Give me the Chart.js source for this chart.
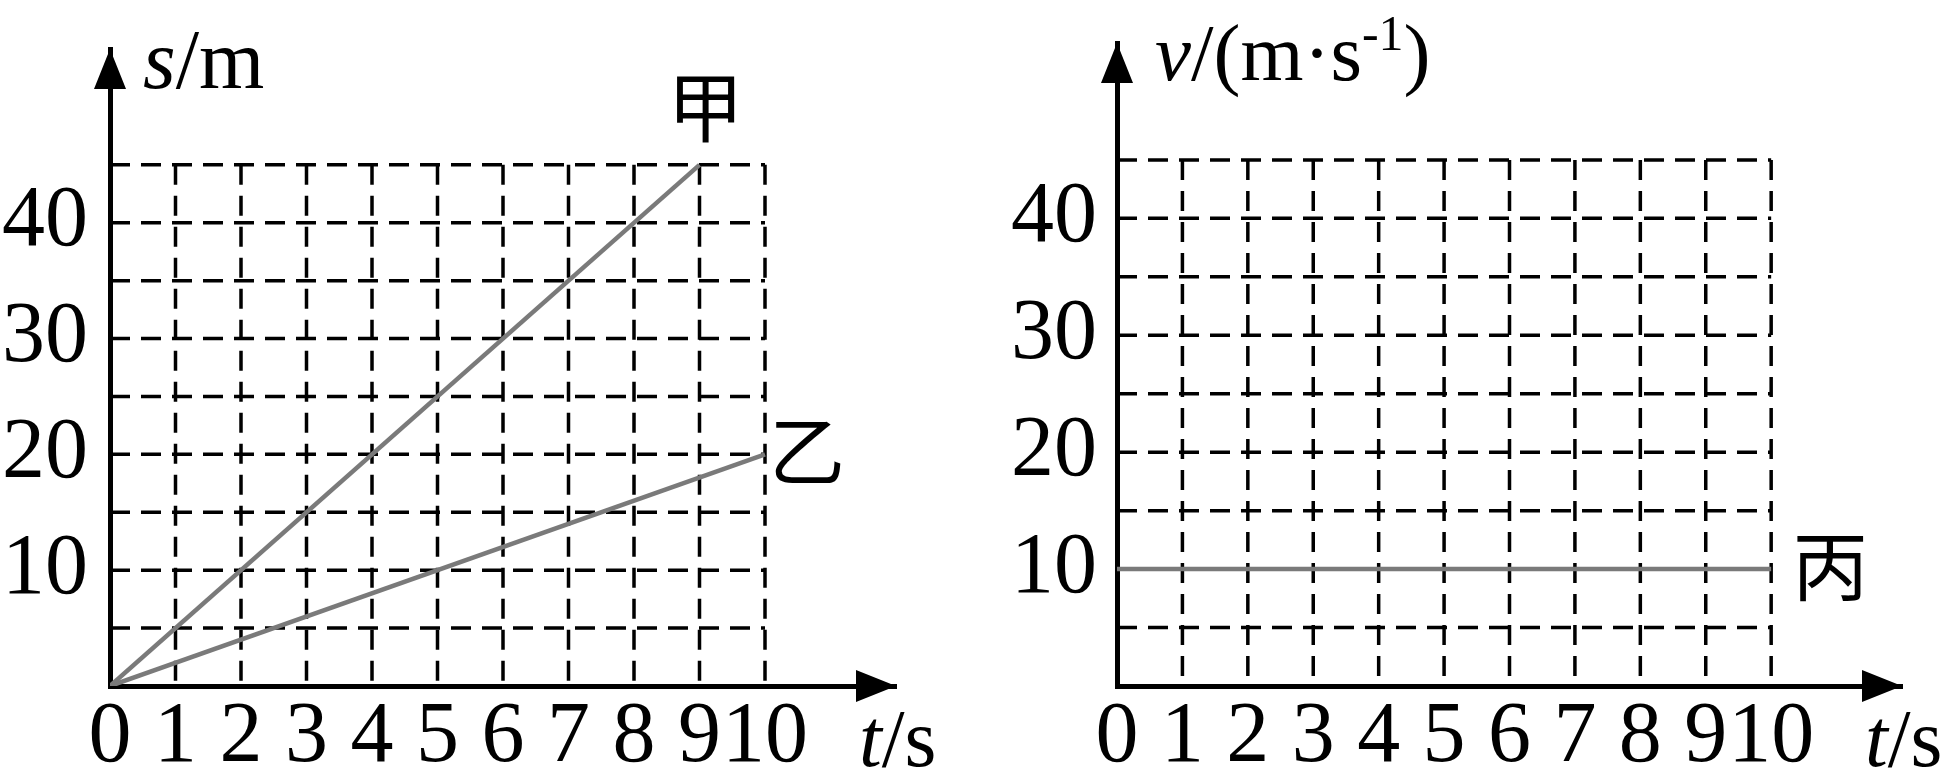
<!DOCTYPE html>
<html>
<head>
<meta charset="utf-8">
<script src="https://cdn.jsdelivr.net/npm/chart.js@4.4.1/dist/chart.umd.min.js"></script>
<style>
html, body { margin: 0; padding: 0; background: #fff; }
.box { position: absolute; top: 0; width: 973px; height: 780px; }
</style>
</head>
<body>
<div class="box" style="left:0"><canvas id="sChart"></canvas></div>
<div class="box" style="left:973px"><canvas id="vChart"></canvas></div>
<script>
// ticks and grid
const tickT = [0, 1, 2, 3, 4, 5, 6, 7, 8, 9, 10];
const tickY = [10, 20, 30, 40];
const gridT = [1, 2, 3, 4, 5, 6, 7, 8, 9, 10];
const gridY = [5, 10, 15, 20, 25, 30, 35, 40, 45];

// 甲, 乙 : s-t ; 丙 : v-t
const jiaT = [0, 9],  jiaS = [0, 45];
const yiT = [0, 10],  yiS = [0, 20];
const bingT = [0, 10], bingV = [10, 10];

const SERIF = '"Liberation Serif", "Times New Roman", serif';
const CJK = '"Noto Sans CJK SC", sans-serif';

function pts(xs, ys) {
	return xs.map((v, i) => ({ x: v, y: ys[i] }));
}

// mixed italic / upright text on one baseline
function drawRuns(ctx, runs, x, base) {
	runs.forEach(r => {
		ctx.font = (r.italic ? 'italic ' : '') + r.size + 'px ' + SERIF;
		ctx.fillText(r.t, x, base - (r.rise || 0));
		x += ctx.measureText(r.t).width + (r.gap || 0);
	});
}

const sheet = {
	id: 'sheet',
	beforeDatasetsDraw(chart) {
		const { ctx, scales: { x, y } } = chart;
		ctx.save();
		ctx.strokeStyle = '#000';
		ctx.lineWidth = 3.5;
		ctx.setLineDash([20, 11]);
		gridT.forEach(t => {
			const px = x.getPixelForValue(t);
			ctx.beginPath();
			ctx.moveTo(px, y.getPixelForValue(45));
			ctx.lineTo(px, y.getPixelForValue(0));
			ctx.stroke();
		});
		gridY.forEach(v => {
			const py = y.getPixelForValue(v);
			ctx.beginPath();
			ctx.moveTo(x.getPixelForValue(0), py);
			ctx.lineTo(x.getPixelForValue(10), py);
			ctx.stroke();
		});
		ctx.restore();
	},
	afterDraw(chart, args, opts) {
		const { ctx, chartArea: a, scales: { x, y } } = chart;
		ctx.save();
		ctx.fillStyle = '#000';
		// arrow heads
		ctx.beginPath();
		ctx.moveTo(a.left, a.top);
		ctx.lineTo(a.left - 16, a.top + 40);
		ctx.lineTo(a.left + 16, a.top + 40);
		ctx.closePath();
		ctx.fill();
		ctx.beginPath();
		ctx.moveTo(a.right, a.bottom);
		ctx.lineTo(a.right - 40, a.bottom - 16);
		ctx.lineTo(a.right - 40, a.bottom + 16);
		ctx.closePath();
		ctx.fill();

		ctx.textAlign = 'left';
		ctx.textBaseline = 'alphabetic';
		drawRuns(ctx, opts.yTitle, a.left + opts.yTitleDx, opts.yTitleBase);
		drawRuns(ctx, [{ t: 't', italic: true, size: 82 }, { t: '/s', size: 82 }], a.right - 37, 766);

		// series names
		ctx.font = '76px ' + CJK;
		ctx.textAlign = 'center';
		ctx.textBaseline = 'middle';
		opts.names.forEach(n => {
			ctx.fillText(n.t, x.getPixelForValue(n.x) + n.dx, y.getPixelForValue(n.y) + n.dy);
		});
		ctx.restore();
	}
};

function lineSet(data) {
	return {
		data: data,
		showLine: true,
		borderColor: '#7a7a7a',
		borderWidth: 4.5,
		pointRadius: 0,
		fill: false
	};
}

function makeChart(id, sets, yWidth, yPad, pad, sheetOpts) {
	return new Chart(document.getElementById(id), {
		type: 'scatter',
		data: { datasets: sets },
		options: {
			responsive: true,
			maintainAspectRatio: false,
			animation: false,
			layout: { padding: pad },
			plugins: { legend: { display: false }, tooltip: { enabled: false }, sheet: sheetOpts },
			scales: {
				x: {
					type: 'linear', min: 0, max: 12,
					afterBuildTicks: s => { s.ticks = tickT.map(v => ({ value: v })); },
					afterFit: s => { s.height = 94; s.paddingLeft = 0; s.paddingRight = 0; },
					grid: { display: false, drawTicks: false },
					border: { display: true, color: '#000', width: 5 },
					ticks: { color: '#000', padding: 1, autoSkip: false, maxRotation: 0, font: { family: SERIF, size: 86 } }
				},
				y: {
					type: 'linear', min: 0, max: 55,
					afterBuildTicks: s => { s.ticks = tickY.map(v => ({ value: v })); },
					afterFit: s => { s.width = yWidth; s.paddingTop = 0; s.paddingBottom = 0; },
					grid: { display: false, drawTicks: false },
					border: { display: true, color: '#000', width: 5 },
					ticks: { color: '#000', padding: yPad, font: { family: SERIF, size: 86 } }
				}
			}
		},
		plugins: [sheet]
	});
}

makeChart('sChart', [lineSet(pts(jiaT, jiaS)), lineSet(pts(yiT, yiS))], 110, 22,
	{ top: 49, right: 77, left: 0, bottom: 0 },
	{
		yTitle: [{ t: 's', italic: true, size: 84 }, { t: '/m', size: 84 }],
		yTitleDx: 33, yTitleBase: 88,
		names: [
			{ t: '甲', x: jiaT[1], y: jiaS[1], dx: 6, dy: -58 },
			{ t: '乙', x: yiT[1], y: yiS[1], dx: 42, dy: -3 }
		]
	});

makeChart('vChart', [lineSet(pts(bingT, bingV))], 144, 20,
	{ top: 43, right: 44, left: 0, bottom: 0 },
	{
		yTitle: [
			{ t: 'v', italic: true, size: 81 },
			{ t: '/(m·s', size: 81 },
			{ t: '-1', size: 50, rise: 30 },
			{ t: ')', size: 81 }
		],
		yTitleDx: 38, yTitleBase: 80,
		names: [
			{ t: '丙', x: bingT[1], y: bingV[1], dx: 59, dy: -3 }
		]
	});
</script>
</body>
</html>
